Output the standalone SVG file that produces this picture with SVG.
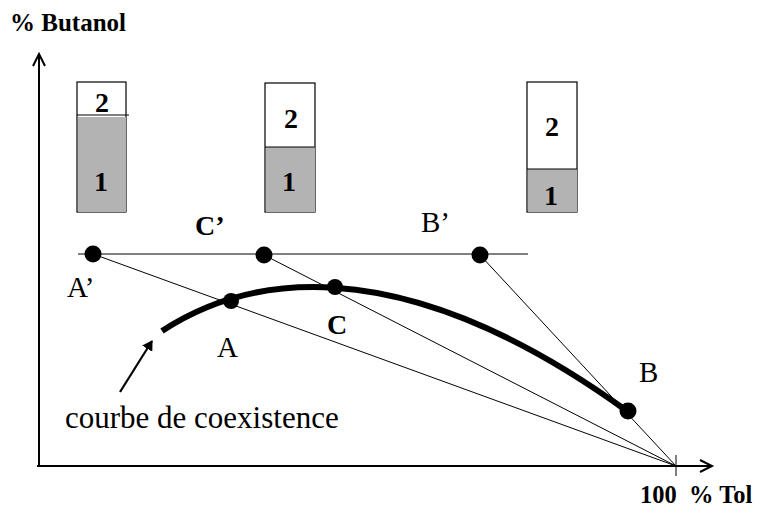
<svg xmlns="http://www.w3.org/2000/svg" width="766" height="519" viewBox="0 0 766 519">
<defs>
<style>
.t{font-family:"Liberation Serif","Times New Roman",serif;fill:#000}
.b{font-weight:bold}
.thin{stroke:#000;stroke-width:1;fill:none}
.ax{stroke:#000;stroke-width:2;fill:none}
.box{fill:#fff;stroke:#000;stroke-width:1.2}
.gray{fill:#b3b3b3}
.dot{fill:#000}
.n{font-size:28px;font-weight:bold;text-anchor:middle}
.l{font-size:29px}
</style>
<marker id="ah" markerWidth="12" markerHeight="12" refX="9" refY="6" orient="auto" markerUnits="userSpaceOnUse">
<path d="M0,0 L10,6 L0,12 Z" fill="#000"/>
</marker>
</defs>
<rect width="766" height="519" fill="#fff"/>
<g id="axes">
<line class="ax" x1="39" y1="467" x2="39" y2="55"/>
<polyline class="ax" points="33,66 39,54 45,66"/>
<line class="ax" x1="37" y1="466" x2="712" y2="466"/>
<polyline class="ax" points="700,460 712,466 700,472"/>
<line class="thin" x1="676" y1="455" x2="676" y2="476"/>
<text class="t b" x="10" y="31" font-size="25">% Butanol</text>
<text class="t b" x="640" y="503" font-size="24.5" xml:space="preserve">100  % Tol</text>
</g>
<g id="beaker1">
<rect class="box" x="77" y="82" width="49" height="130"/>
<rect class="gray" x="78" y="117" width="48" height="95"/>
<line class="thin" x1="77" y1="115" x2="129" y2="115"/>
<text class="t n" x="102" y="112">2</text>
<text class="t n" x="101" y="191">1</text>
</g>
<g id="beaker2">
<rect class="box" x="265" y="83" width="50" height="129"/>
<rect class="gray" x="266" y="147" width="49" height="65"/>
<line class="thin" x1="265" y1="147" x2="315" y2="147"/>
<text class="t n" x="291" y="128">2</text>
<text class="t n" x="289" y="191">1</text>
</g>
<g id="beaker3">
<rect class="box" x="527" y="82" width="50" height="130"/>
<rect class="gray" x="528" y="169" width="49" height="43"/>
<line class="thin" x1="527" y1="169" x2="577" y2="169"/>
<text class="t n" x="552" y="136">2</text>
<text class="t n" x="551" y="205">1</text>
</g>
<g id="connectors">
<line class="thin" x1="78" y1="254" x2="528" y2="254" stroke-width="1.3"/>
<line class="thin" x1="93" y1="254" x2="676" y2="466"/>
<line class="thin" x1="264" y1="255" x2="676" y2="466"/>
<line class="thin" x1="480" y1="255" x2="676" y2="466"/>
<path d="M162,331 C240,280 390,240 627,411" fill="none" stroke="#000" stroke-width="6"/>
<line x1="120" y1="392" x2="152" y2="341" stroke="#000" stroke-width="2.2" marker-end="url(#ah)"/>
</g>
<g id="points">
<circle class="dot" cx="93" cy="254" r="8.5"/>
<circle class="dot" cx="264" cy="255" r="8.5"/>
<circle class="dot" cx="480" cy="255" r="8.5"/>
<circle class="dot" cx="231" cy="301" r="8"/>
<circle class="dot" cx="335" cy="287" r="8"/>
<circle class="dot" cx="628" cy="411" r="8.5"/>
</g>
<g id="labels">
<text class="t b" x="195" y="235" font-size="28">C’</text>
<text class="t l" x="421" y="232">B’</text>
<text class="t l" x="67" y="297">A’</text>
<text class="t l" x="217" y="357">A</text>
<text class="t b" x="327" y="334" font-size="28">C</text>
<text class="t l" x="639" y="382">B</text>
<text class="t" x="65" y="428" font-size="31">courbe de coexistence</text>
</g>
</svg>
